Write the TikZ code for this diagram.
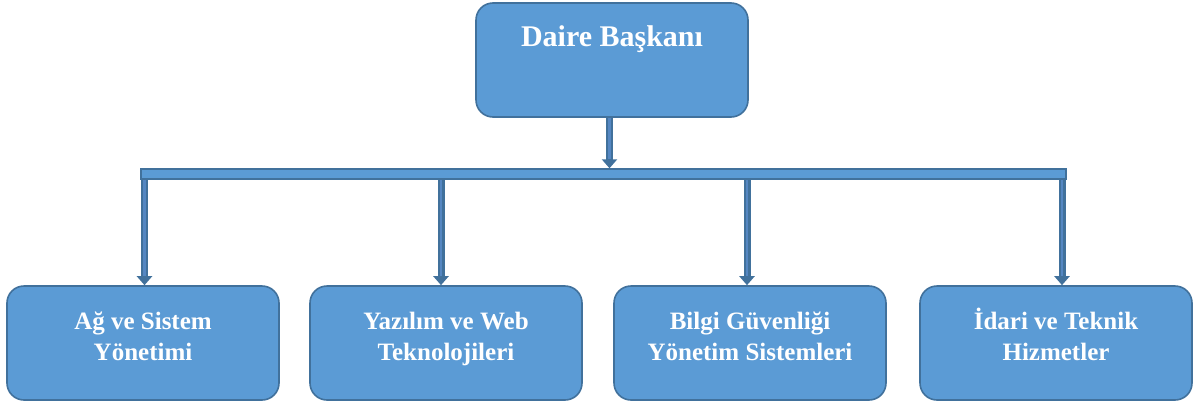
\documentclass[tikz,border=0pt]{standalone}
\usepackage{fontspec}
\setmainfont{Liberation Serif}
\usetikzlibrary{arrows.meta}
\definecolor{boxfill}{HTML}{5B9BD5}
\definecolor{boxline}{HTML}{41719C}
\definecolor{connlight}{HTML}{5587C2}
\tikzset{
  box/.style={draw=boxline, fill=boxfill, line width=1.6pt, rounded corners=17pt,
    rectangle, minimum width=272pt, minimum height=114pt, inner sep=0pt},
  lbl/.style={text=white, font=\bfseries\fontsize{25}{31}\selectfont, align=center, inner sep=0pt},
  toplbl/.style={text=white, font=\bfseries\fontsize{30}{36}\selectfont, inner sep=0pt},
  barbox/.style={draw=boxline, fill=boxfill, line width=1.4pt, rectangle, inner sep=0pt},
  shaftout/.style={draw=boxline, line width=7pt, -{Triangle[width=15pt,length=9pt]}},
  shaftin/.style={draw=connlight, line width=2.2pt, shorten >=9pt},
}
\begin{document}
\begin{tikzpicture}[x=1pt,y=-1pt]
\useasboundingbox (0,0) rectangle (1194,405);
% top box
\node[box] (top) at (612,60) {};
\node[toplbl] (toptext) at (612,39.5) {\strut Daire Başkanı};
% bar
\node[barbox, minimum width=925pt, minimum height=10pt] (bar) at (603.5,174) {};
% bottom boxes
\node[box] (b1) at (143,343) {};
\node[box] (b2) at (446,343) {};
\node[box] (b3) at (750,343) {};
\node[box] (b4) at (1056,343) {};
\node[lbl] (t1) at (143,339) {\strut Ağ ve Sistem\\\strut Yönetimi};
\node[lbl] (t2) at (446,339) {\strut Yazılım ve Web\\\strut Teknolojileri};
\node[lbl] (t3) at (750,339) {\strut Bilgi Güvenliği\\\strut Yönetim Sistemleri};
\node[lbl] (t4) at (1056,339) {\strut İdari ve Teknik\\\strut Hizmetler};
% connector x positions
\coordinate (x0) at (609.5,0);
\coordinate (x1) at (144.5,0);
\coordinate (x2) at (441,0);
\coordinate (x3) at (747,0);
\coordinate (x4) at (1062,0);
% top arrow
\draw[shaftout] (top.south -| x0) -- (bar.north -| x0);
\draw[shaftin] (top.south -| x0) -- (bar.north -| x0);
% down arrows
\foreach \i in {1,2,3,4}{
  \draw[shaftout] (bar.south -| x\i) -- (b\i.north -| x\i);
  \draw[shaftin] (bar.south -| x\i) -- (b\i.north -| x\i);
}
\end{tikzpicture}
\end{document}
